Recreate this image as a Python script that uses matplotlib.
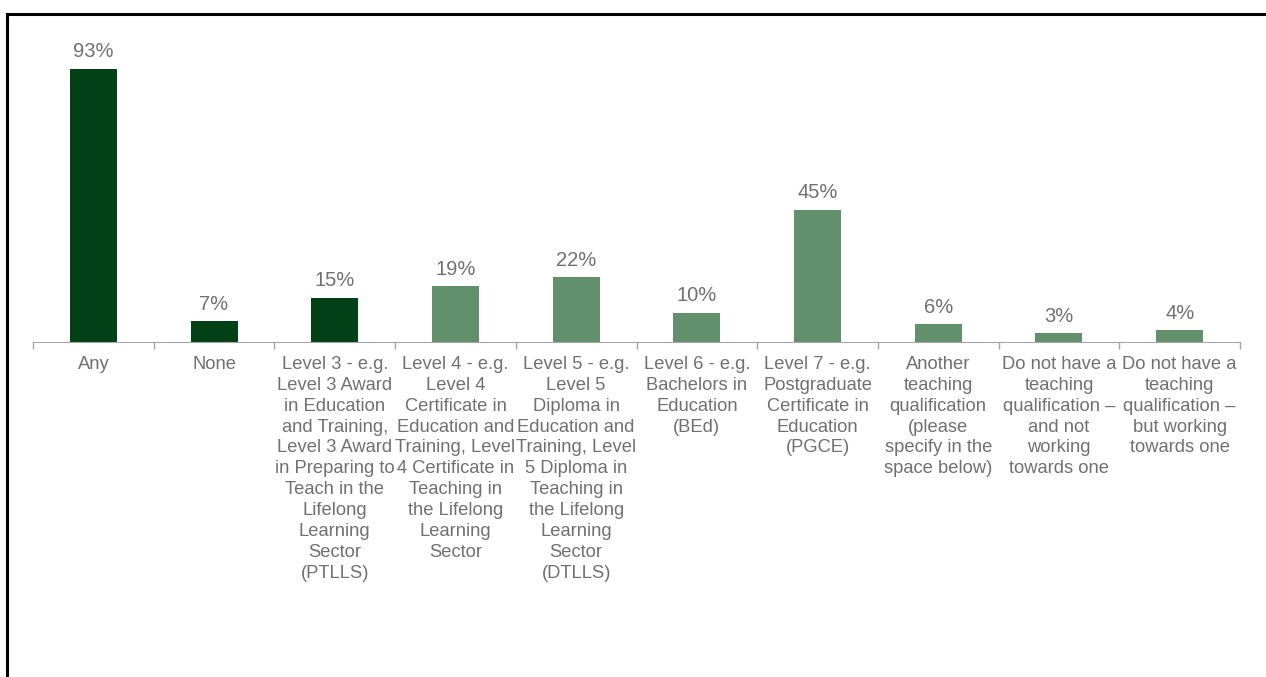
import matplotlib.pyplot as plt
from matplotlib.lines import Line2D

plt.rcParams['font.family'] = ['Liberation Sans', 'DejaVu Sans']

# Data
categories = [
    "Any",
    "None",
    "Level 3 - e.g.\nLevel 3 Award\nin Education\nand Training,\nLevel 3 Award\nin Preparing to\nTeach in the\nLifelong\nLearning\nSector\n(PTLLS)",
    "Level 4 - e.g.\nLevel 4\nCertificate in\nEducation and\nTraining, Level\n4 Certificate in\nTeaching in\nthe Lifelong\nLearning\nSector",
    "Level 5 - e.g.\nLevel 5\nDiploma in\nEducation and\nTraining, Level\n5 Diploma in\nTeaching in\nthe Lifelong\nLearning\nSector\n(DTLLS)",
    "Level 6 - e.g.\nBachelors in\nEducation\n(BEd)",
    "Level 7 - e.g.\nPostgraduate\nCertificate in\nEducation\n(PGCE)",
    "Another\nteaching\nqualification\n(please\nspecify in the\nspace below)",
    "Do not have a\nteaching\nqualification \u2013\nand not\nworking\ntowards one",
    "Do not have a\nteaching\nqualification \u2013\nbut working\ntowards one",
]
values = [93, 7, 15, 19, 22, 10, 45, 6, 3, 4]
dark_green = "#024116"
light_green = "#62906d"
bar_colors = [dark_green] * 3 + [light_green] * 7
text_gray = "#707070"

fig = plt.figure(figsize=(12.66, 6.77), dpi=100)
ax = fig.add_axes([33 / 1266, 1 - 342 / 677, (1240 - 33) / 1266, (342 - 48.5) / 677])

x = range(len(values))
bars = ax.bar(x, values, width=0.39, color=bar_colors)

for rect, v in zip(bars, values):
    ax.text(rect.get_x() + rect.get_width() / 2, v + 2.6, f"{v}%",
            ha="center", va="bottom", fontsize=14.5, color=text_gray)

ax.set_xlim(-0.5, len(values) - 0.5)
ax.set_ylim(0, 100)
ax.set_yticks([])
ax.set_xticks(list(x))
ax.set_xticklabels(categories, fontsize=13.2, color=text_gray, linespacing=1.3)
ax.tick_params(axis="x", length=0, pad=10)
# boundary ticks between categories
ax.set_xticks([i - 0.5 for i in range(len(values) + 1)], minor=True)
ax.tick_params(axis="x", which="minor", length=5, color="#a6a6a6", width=1)

for side in ["top", "right", "left"]:
    ax.spines[side].set_visible(False)
ax.spines["bottom"].set_color("#a6a6a6")

# outer border (top and left edges visible)
fig.add_artist(Line2D([7 / 1266, 1.0], [1 - 14 / 677, 1 - 14 / 677],
                      transform=fig.transFigure, color="black", linewidth=2.2))
fig.add_artist(Line2D([7 / 1266, 7 / 1266], [1 - 14 / 677, 0],
                      transform=fig.transFigure, color="black", linewidth=2.2))

plt.savefig("out.png", dpi=100)
plt.close()
